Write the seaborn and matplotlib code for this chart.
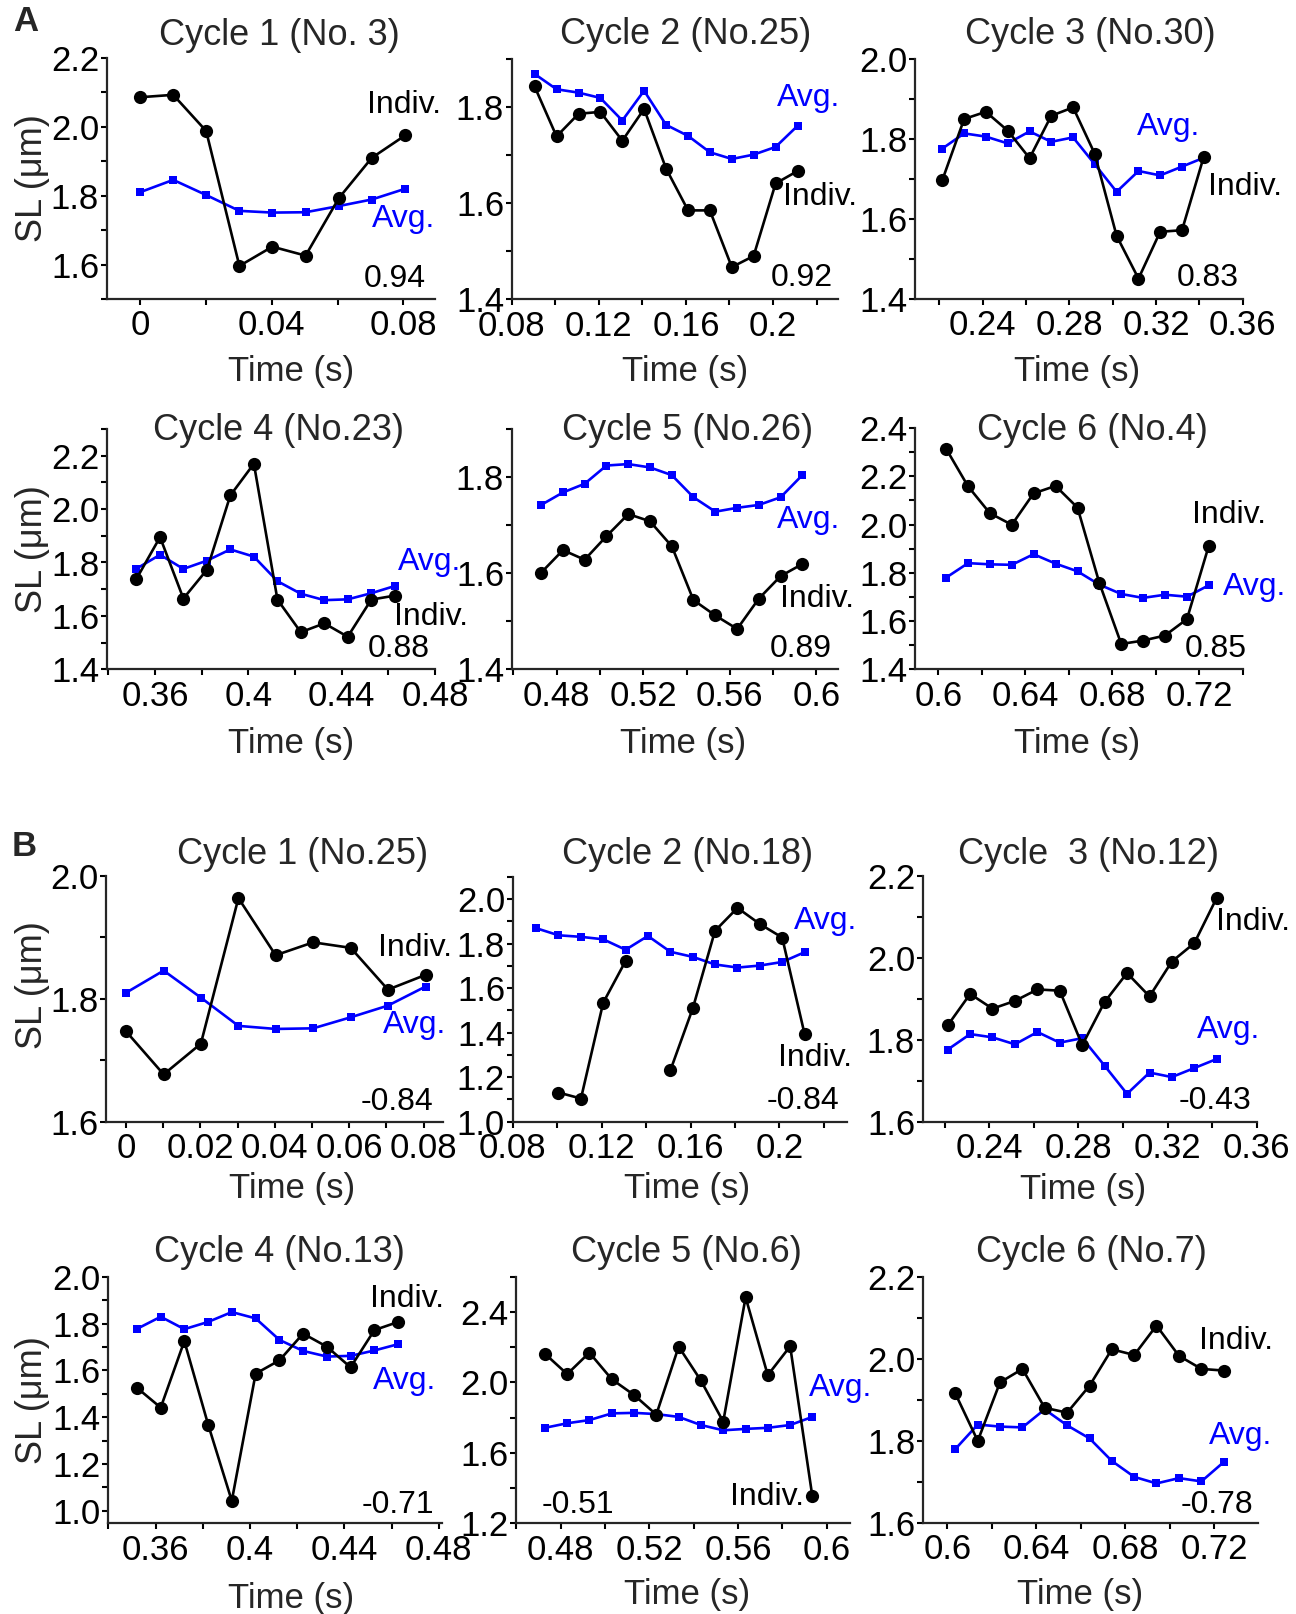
"""
Sarcomere length (SL) traces over six cycles: individual sarcomeres (black)
against the population average (blue). Panel A = positively correlated
examples, panel B = negatively correlated ones.
"""

import matplotlib
matplotlib.use("Agg")  # headless
import matplotlib.pyplot as plt
from matplotlib.ticker import MultipleLocator, FuncFormatter
import numpy as np
import pandas as pd
import seaborn as sns

# ---- data ----
TIME_S = [
    0.0, 0.0101, 0.0201, 0.0302, 0.0402, 0.0503, 0.0604, 0.0704, 0.0805,
    0.0905, 0.1006, 0.1107, 0.1207, 0.1308, 0.1408, 0.1509, 0.1610, 0.1710,
    0.1811, 0.1911, 0.2012, 0.2113,
    0.2213, 0.2314, 0.2414, 0.2515, 0.2616, 0.2716, 0.2817, 0.2917, 0.3018,
    0.3119, 0.3219, 0.3320, 0.3420,
    0.3521, 0.3622, 0.3722, 0.3823, 0.3923, 0.4024, 0.4125, 0.4225, 0.4326,
    0.4426, 0.4527, 0.4628,
    0.4728, 0.4829, 0.4929, 0.5030, 0.5131, 0.5231, 0.5332, 0.5432, 0.5533,
    0.5634, 0.5734, 0.5835, 0.5935,
    0.6036, 0.6137, 0.6237, 0.6338, 0.6438, 0.6539, 0.6640, 0.6740, 0.6841,
    0.6941, 0.7042, 0.7143, 0.7243,
]

AVG_SL = [
    1.810, 1.846, 1.802, 1.756, 1.751, 1.752, 1.770, 1.789, 1.820,
    1.869, 1.837, 1.830, 1.819, 1.772, 1.834, 1.763, 1.740, 1.706, 1.692,
    1.701, 1.717, 1.761,
    1.776, 1.814, 1.806, 1.789, 1.819, 1.793, 1.804, 1.737, 1.668, 1.720,
    1.709, 1.731, 1.753,
    1.777, 1.829, 1.776, 1.807, 1.849, 1.822, 1.730, 1.683, 1.659, 1.662,
    1.685, 1.712,
    1.742, 1.768, 1.786, 1.824, 1.827, 1.820, 1.804, 1.758, 1.728, 1.736,
    1.742, 1.758, 1.804,
    1.780, 1.840, 1.835, 1.833, 1.877, 1.838, 1.806, 1.751, 1.712, 1.696,
    1.709, 1.701, 1.748,
]

# frame index range [start, stop) of each cycle
CYCLE_FRAMES = [(0, 9), (9, 22), (22, 35), (35, 47), (47, 60), (60, 73)]

TITLES_A = ["Cycle 1 (No. 3)", "Cycle 2 (No.25)", "Cycle 3 (No.30)",
            "Cycle 4 (No.23)", "Cycle 5 (No.26)", "Cycle 6 (No.4)"]
TITLES_B = ["Cycle 1 (No.25)", "Cycle 2 (No.18)", "Cycle  3 (No.12)",
            "Cycle 4 (No.13)", "Cycle 5 (No.6)", "Cycle 6 (No.7)"]

CORR_A = ["0.94", "0.92", "0.83", "0.88", "0.89", "0.85"]
CORR_B = ["-0.84", "-0.84", "-0.43", "-0.71", "-0.51", "-0.78"]

INDIV_A = [
    [2.086, 2.093, 1.988, 1.596, 1.652, 1.626, 1.793, 1.910, 1.975],
    [1.843, 1.739, 1.786, 1.790, 1.730, 1.796, 1.672, 1.585, 1.585, 1.467,
     1.490, 1.641, 1.667],
    [1.697, 1.850, 1.868, 1.821, 1.752, 1.858, 1.879, 1.763, 1.558, 1.451,
     1.568, 1.572, 1.755],
    [1.739, 1.895, 1.665, 1.773, 2.051, 2.170, 1.661, 1.539, 1.572, 1.522,
     1.661, 1.676],
    [1.601, 1.648, 1.628, 1.677, 1.723, 1.708, 1.656, 1.544, 1.512, 1.484,
     1.547, 1.594, 1.619],
    [2.314, 2.158, 2.047, 1.999, 2.129, 2.160, 2.070, 1.759, 1.505, 1.519,
     1.540, 1.608, 1.911],
]

INDIV_B = [
    [1.747, 1.677, 1.727, 1.964, 1.871, 1.892, 1.883, 1.815, 1.839],
    [np.nan, 1.131, 1.104, 1.534, 1.722, np.nan, 1.230, 1.509, 1.857, 1.960,
     1.888, 1.827, 1.393],
    [1.835, 1.912, 1.876, 1.895, 1.923, 1.920, 1.787, 1.892, 1.963, 1.906,
     1.991, 2.036, 2.146],
    [1.526, 1.441, 1.725, 1.368, 1.043, 1.586, 1.643, 1.757, 1.701, 1.613,
     1.772, 1.807],
    [2.163, 2.047, 2.169, 2.018, 1.928, 1.817, 2.203, 2.011, 1.777, 2.483,
     2.041, 2.205, 1.354],
    [1.916, 1.800, 1.943, 1.976, 1.881, 1.869, 1.935, 2.024, 2.010, 2.082,
     2.008, 1.976, 1.972],
]

# ---- layout (pixel boxes: left, top, right, bottom; text spots in axes fraction) ----
W, H = 1296, 1614
LAYOUT = [
    # panel A
    dict(box=(106.7, 58, 435, 299), xlim=(-0.0101, 0.0896), ylim=(1.5, 2.2),
         title=(0.525, 1.054), indiv=(0.793, 0.770), avg=(0.808, 0.299),
         corr=(0.973, 0.051, "right"), xlab=(0.563, -0.232), ylab=(-0.173, 0.5)),
    dict(box=(511.7, 59, 838.3, 299.3), xlim=(0.08, 0.23), ylim=(1.4, 1.9),
         title=(0.533, 1.061), indiv=(0.830, 0.392), avg=(0.811, 0.804),
         corr=(0.982, 0.055, "right"), xlab=(0.531, -0.232)),
    dict(box=(915, 59, 1243.3, 299), xlim=(0.2087, 0.3603), ylim=(1.4, 2.0),
         title=(0.533, 1.061), indiv=(0.893, 0.433), avg=(0.675, 0.683),
         corr=(0.985, 0.054, "right"), xlab=(0.4925, -0.233)),
    dict(box=(107.3, 429, 435, 669.3), xlim=(0.3396, 0.48), ylim=(1.4, 2.3),
         title=(0.523, 0.954), indiv=(0.876, 0.184), avg=(0.888, 0.413),
         corr=(0.985, 0.052, "right"), xlab=(0.56, -0.239), ylab=(-0.175, 0.5)),
    dict(box=(511.7, 429, 838, 669.3), xlim=(0.4592, 0.61), ylim=(1.4, 1.9),
         title=(0.539, 0.954), indiv=(0.823, 0.261), avg=(0.814, 0.587),
         corr=(0.981, 0.052, "right"), xlab=(0.526, -0.239)),
    dict(box=(915, 428, 1243.3, 669.3), xlim=(0.5893, 0.7402), ylim=(1.4, 2.4),
         title=(0.541, 0.950), indiv=(0.845, 0.605), avg=(0.939, 0.308),
         corr=(1.01, 0.052, "right"), xlab=(0.4925, -0.238)),
    # panel B
    dict(box=(106, 876, 443, 1121.7), xlim=(-0.0054, 0.0852), ylim=(1.6, 2.0),
         xstep=(0.02, 0.01),
         title=(0.583, 1.048), indiv=(0.808, 0.676), avg=(0.823, 0.360),
         corr=(0.971, 0.048, "right"), xlab=(0.551, -0.203), ylab=(-0.166, 0.556)),
    dict(box=(512.7, 876.7, 847.3, 1121.7), xlim=(0.08, 0.2305), ylim=(1.0, 2.1),
         title=(0.522, 1.051), indiv=(0.794, 0.227), avg=(0.841, 0.785),
         corr=(0.976, 0.051, "right"), xlab=(0.52, -0.204)),
    dict(box=(922.7, 876, 1256.7, 1121.7), xlim=(0.2101, 0.36), ylim=(1.6, 2.2),
         title=(0.497, 1.048), indiv=(0.878, 0.780), avg=(0.820, 0.339),
         corr=(0.985, 0.050, "right"), xlab=(0.481, -0.21)),
    dict(box=(108.3, 1276.7, 441.7, 1523.3), xlim=(0.34, 0.4812), ylim=(0.947, 2.0),
         title=(0.513, 1.061), indiv=(0.785, 0.876), avg=(0.795, 0.543),
         corr=(0.977, 0.043, "right"), xlab=(0.547, -0.237), ylab=(-0.175, 0.5)),
    dict(box=(516, 1276.7, 850, 1523.3), xlim=(0.4598, 0.6105), ylim=(1.2, 2.6),
         ystep=(0.4, 0.2),
         title=(0.511, 1.061), indiv=(0.641, 0.074), avg=(0.878, 0.516),
         corr=(0.077, 0.043, "left"), xlab=(0.511, -0.223)),
    dict(box=(923.3, 1277.3, 1258.3, 1522.7), xlim=(0.5892, 0.7399), ylim=(1.6, 2.2),
         title=(0.501, 1.064), indiv=(0.824, 0.707), avg=(0.854, 0.321),
         corr=(0.985, 0.041, "right"), xlab=(0.468, -0.227)),
]

AVG_BLUE = "#0000ff"
FS_TICK = 25
FS_LABEL = 25
FS_YLABEL = 26
FS_TITLE = 26
FS_NOTE = 23
FS_PANEL = 25

sns.set_style("ticks")
plt.rcParams["font.family"] = ["Liberation Sans", "DejaVu Sans"]
plt.rcParams["axes.linewidth"] = 1.6


def draw_trace(ax, t, sl, color, marker, ms):
    # NaN frames break the trace into separate segments
    df = pd.DataFrame({"t": t, "sl": sl})
    df["seg"] = df["sl"].isna().cumsum()
    df = df.dropna()
    sns.lineplot(data=df, x="t", y="sl", units="seg", estimator=None, sort=False,
                 ax=ax, color=color, marker=marker, markersize=ms,
                 markeredgecolor=color, markeredgewidth=0, linewidth=1.9)


def x_fmt(v, pos):
    return f"{round(v, 4):g}"


fig = plt.figure(figsize=(W / 100, H / 100), dpi=100)

titles = TITLES_A + TITLES_B
corrs = CORR_A + CORR_B
indivs = INDIV_A + INDIV_B

for i, lay in enumerate(LAYOUT):
    l, t, r, b = lay["box"]
    ax = fig.add_axes([l / W, 1 - b / H, (r - l) / W, (b - t) / H])
    start, stop = CYCLE_FRAMES[i % 6]
    times = TIME_S[start:stop]

    draw_trace(ax, times, AVG_SL[start:stop], AVG_BLUE, "s", 6.0)
    draw_trace(ax, times, indivs[i], "black", "o", 9.5)

    ax.set_xlim(*lay["xlim"])
    ax.set_ylim(*lay["ylim"])
    xmaj, xmin = lay.get("xstep", (0.04, 0.02))
    ymaj, ymin = lay.get("ystep", (0.2, 0.1))
    ax.xaxis.set_major_locator(MultipleLocator(xmaj))
    ax.xaxis.set_minor_locator(MultipleLocator(xmin))
    ax.yaxis.set_major_locator(MultipleLocator(ymaj))
    ax.yaxis.set_minor_locator(MultipleLocator(ymin))
    ax.xaxis.set_major_formatter(FuncFormatter(x_fmt))
    ax.yaxis.set_major_formatter(FuncFormatter(lambda v, p: f"{v:.1f}"))
    ax.tick_params(which="both", direction="out", length=4.5, width=1.5,
                   colors="black", labelsize=FS_TICK)
    ax.tick_params(axis="x", pad=3)
    ax.tick_params(axis="y", pad=1)
    sns.despine(ax=ax)

    ax.set_xlabel("Time (s)", fontsize=FS_LABEL)
    ax.xaxis.set_label_coords(*lay["xlab"])
    if "ylab" in lay:
        ax.set_ylabel("SL (\u03bcm)", fontsize=FS_YLABEL)
        ax.yaxis.set_label_coords(*lay["ylab"])
    else:
        ax.set_ylabel("")

    tx, ty = lay["title"]
    ax.set_title(titles[i], x=tx, y=ty, pad=0, fontsize=FS_TITLE, va="baseline")

    ix, iy = lay["indiv"]
    ax.text(ix, iy, "Indiv.", transform=ax.transAxes, fontsize=FS_NOTE,
            color="black", ha="left", va="baseline")
    axx, ayy = lay["avg"]
    ax.text(axx, ayy, "Avg.", transform=ax.transAxes, fontsize=FS_NOTE,
            color=AVG_BLUE, ha="left", va="baseline")
    cx, cy, cha = lay["corr"]
    ax.text(cx, cy, corrs[i], transform=ax.transAxes, fontsize=FS_NOTE,
            color="black", ha=cha, va="baseline")

fig.text(13 / W, 1 - 31 / H, "A", fontsize=FS_PANEL, fontweight="bold",
         ha="left", va="baseline")
fig.text(12 / W, 1 - 856 / H, "B", fontsize=FS_PANEL, fontweight="bold",
         ha="left", va="baseline")

fig.savefig("out.png", dpi=100)
